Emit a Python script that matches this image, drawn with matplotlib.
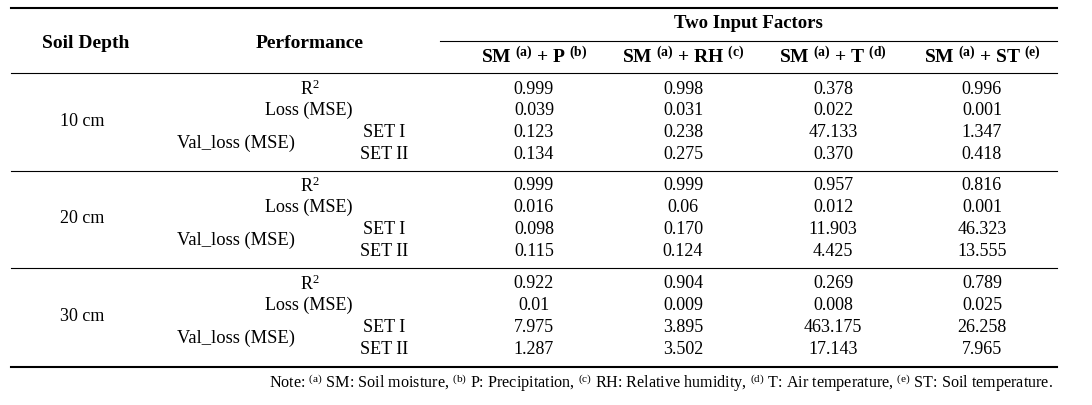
import matplotlib
matplotlib.use("Agg")
import matplotlib.pyplot as plt

plt.rcParams['font.family'] = ['Liberation Serif', 'DejaVu Serif']
plt.rcParams['mathtext.fontset'] = 'custom'
plt.rcParams['mathtext.rm'] = 'Liberation Serif'
plt.rcParams['mathtext.it'] = 'Liberation Serif:italic'
plt.rcParams['mathtext.bf'] = 'Liberation Serif:bold'

# table content
depths = ["10 cm", "20 cm", "30 cm"]
perf_rows = ["R$^{2}$", "Loss (MSE)", "SET I", "SET II"]
val_label = "Val_loss (MSE)"
col_labels = [r"SM $^{\mathbf{(a)}}$ + P $^{\mathbf{(b)}}$",
              r"SM $^{\mathbf{(a)}}$ + RH $^{\mathbf{(c)}}$",
              r"SM $^{\mathbf{(a)}}$ + T $^{\mathbf{(d)}}$",
              r"SM $^{\mathbf{(a)}}$ + ST $^{\mathbf{(e)}}$"]
group_title = "Two Input Factors"

# values per column, rows: 10cm (R2, Loss, SET I, SET II), 20cm, 30cm
sm_p  = ["0.999", "0.039", "0.123", "0.134",
         "0.999", "0.016", "0.098", "0.115",
         "0.922", "0.01", "7.975", "1.287"]
sm_rh = ["0.998", "0.031", "0.238", "0.275",
         "0.999", "0.06", "0.170", "0.124",
         "0.904", "0.009", "3.895", "3.502"]
sm_t  = ["0.378", "0.022", "47.133", "0.370",
         "0.957", "0.012", "11.903", "4.425",
         "0.269", "0.008", "463.175", "17.143"]
sm_st = ["0.996", "0.001", "1.347", "0.418",
         "0.816", "0.001", "46.323", "13.555",
         "0.789", "0.025", "26.258", "7.965"]
columns = [sm_p, sm_rh, sm_t, sm_st]

note = (r"Note: $^{\rm (a)}$ SM: Soil moisture, $^{\rm (b)}$ P: Precipitation, "
        r"$^{\rm (c)}$ RH: Relative humidity, $^{\rm (d)}$ T: Air temperature, "
        r"$^{\rm (e)}$ ST: Soil temperature.")

fig = plt.figure(figsize=(10.92, 4.05), dpi=100)
ax = fig.add_axes([0, 0, 1, 1])
ax.set_xlim(0, 1092)
ax.set_ylim(405, 0)
ax.axis('off')

fs = 13
fsb = 14
x0, x1 = 11, 1057
col_x = [534, 683, 833, 982]
row_y0 = [89, 186, 284]
row_dy = 21.7
sep_y = [171, 268]

# rules
ax.plot([x0, x1], [8, 8], color='black', lw=1.5)
ax.plot([440, x1], [41, 41], color='black', lw=0.8)
ax.plot([x0, x1], [73, 73], color='black', lw=0.8)
for y in sep_y:
    ax.plot([x0, x1], [y, y], color='black', lw=0.8)
ax.plot([x0, x1], [367, 367], color='black', lw=1.5)

# header
ax.text(86, 43, "Soil Depth", fontsize=fsb, fontweight='bold', ha='center', va='center')
ax.text(310, 44, "Performance", fontsize=fsb, fontweight='bold', ha='center', va='center')
ax.text(748, 24, group_title, fontsize=13.5, fontweight='bold', ha='center', va='center')
for cx, lab in zip(col_x, col_labels):
    ax.text(cx, 57, lab, fontsize=fsb, fontweight='bold', ha='center', va='center')

# body
for g, depth in enumerate(depths):
    ys = [row_y0[g] + i * row_dy for i in range(4)]
    ax.text(82, (ys[0] + ys[3]) / 2, depth, fontsize=fs, ha='center', va='center')
    ax.text(310, ys[0], perf_rows[0], fontsize=fs, ha='center', va='center')
    ax.text(309, ys[1], perf_rows[1], fontsize=fs, ha='center', va='center')
    ax.text(384, ys[2], perf_rows[2], fontsize=fs, ha='center', va='center')
    ax.text(384, ys[3], perf_rows[3], fontsize=fs, ha='center', va='center')
    ax.text(236, (ys[2] + ys[3]) / 2, val_label, fontsize=13.3, ha='center', va='center')
    for cx, vals in zip(col_x, columns):
        for i in range(4):
            ax.text(cx, ys[i], vals[g * 4 + i], fontsize=fs, ha='center', va='center')

ax.text(1053, 383, note, fontsize=11.6, ha='right', va='center')

fig.savefig("out.png", dpi=100, facecolor='white')
